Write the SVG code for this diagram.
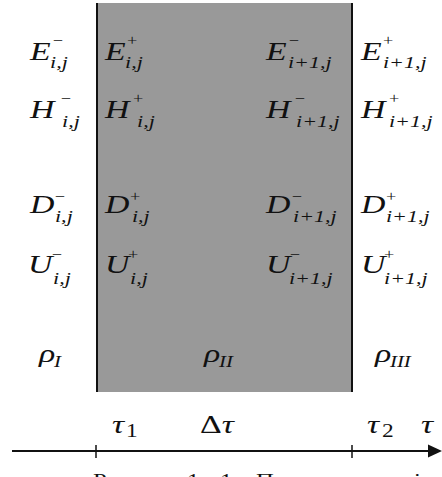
<svg xmlns="http://www.w3.org/2000/svg" width="442" height="477" viewBox="0 0 442 477">
<style>
text{font-family:"Liberation Serif","Times New Roman",serif;font-style:italic;fill:#111}
.m{font-size:26px}
.s{font-size:17px}
.p{font-size:14px;font-style:normal}
.r{font-size:16px}
.n{font-size:18px;font-style:normal}
.c{font-size:19px;font-style:normal}
</style>
<rect id="region-II" x="96" y="3" width="257" height="389" fill="#999"/>
<g id="boundaries" stroke="#111" stroke-width="2">
<line x1="97" y1="3" x2="97" y2="392"/>
<line x1="352" y1="3" x2="352" y2="392"/>
</g>
<g id="connectors">
<line x1="12" y1="451" x2="432" y2="451" stroke="#111" stroke-width="2"/>
<polygon points="428,444.5 442,451 428,457.5" fill="#111"/>
<line x1="96" y1="445" x2="96" y2="458" stroke="#111" stroke-width="1.5"/>
<line x1="352" y1="445" x2="352" y2="458" stroke="#111" stroke-width="1.5"/>
</g>
<g id="labels" transform="scale(1.3 1)">
<g id="E-ij-minus"><text class="m" x="23.1" y="60">E</text><text class="p" x="40.8" y="45">−</text><text class="s" x="38.5" y="68">i,j</text></g>
<g id="H-ij-minus"><text class="m" x="23.1" y="118">H</text><text class="p" x="46.9" y="103">−</text><text class="s" x="47.7" y="127">i,j</text></g>
<g id="D-ij-minus"><text class="m" x="23.1" y="213">D</text><text class="p" x="42.3" y="201">−</text><text class="s" x="42.3" y="222">i,j</text></g>
<g id="U-ij-minus"><text class="m" x="21.5" y="273">U</text><text class="p" x="40" y="259">−</text><text class="s" x="40.8" y="284">i,j</text></g>
<g id="E-ij-plus"><text class="m" x="80.8" y="60">E</text><text class="p" x="97.7" y="45">+</text><text class="s" x="96.2" y="68">i,j</text></g>
<g id="H-ij-plus"><text class="m" x="80.8" y="118">H</text><text class="p" x="102.3" y="103">+</text><text class="s" x="105.4" y="127">i,j</text></g>
<g id="D-ij-plus"><text class="m" x="80.8" y="213">D</text><text class="p" x="100" y="201">+</text><text class="s" x="101.5" y="222">i,j</text></g>
<g id="U-ij-plus"><text class="m" x="80.8" y="273">U</text><text class="p" x="98.5" y="259">+</text><text class="s" x="100" y="284">i,j</text></g>
<g id="E-i1j-minus"><text class="m" x="204.6" y="60">E</text><text class="p" x="222.3" y="45">−</text><text class="s" x="221.5" y="68">i+1,j</text></g>
<g id="H-i1j-minus"><text class="m" x="204.6" y="118">H</text><text class="p" x="226.9" y="103">−</text><text class="s" x="227.7" y="127">i+1,j</text></g>
<g id="D-i1j-minus"><text class="m" x="204.6" y="213">D</text><text class="p" x="224.6" y="201">−</text><text class="s" x="225.4" y="222">i+1,j</text></g>
<g id="U-i1j-minus"><text class="m" x="204.6" y="273">U</text><text class="p" x="223.1" y="259">−</text><text class="s" x="222.3" y="284">i+1,j</text></g>
<g id="E-i1j-plus"><text class="m" x="277.7" y="60">E</text><text class="p" x="294.6" y="45">+</text><text class="s" x="294.6" y="68">i+1,j</text></g>
<g id="H-i1j-plus"><text class="m" x="277.7" y="118">H</text><text class="p" x="299.2" y="103">+</text><text class="s" x="299.2" y="127">i+1,j</text></g>
<g id="D-i1j-plus"><text class="m" x="277.7" y="213">D</text><text class="p" x="296.9" y="201">+</text><text class="s" x="296.9" y="222">i+1,j</text></g>
<g id="U-i1j-plus"><text class="m" x="277.7" y="273">U</text><text class="p" x="295.4" y="259">+</text><text class="s" x="295.4" y="284">i+1,j</text></g>
<g id="rho-I"><text class="m" x="30" y="362">ρ</text><text class="r" x="41.5" y="367">I</text></g>
<g id="rho-II"><text class="m" x="156.9" y="362">ρ</text><text class="r" x="168.5" y="367">II</text></g>
<g id="rho-III"><text class="m" x="288.5" y="362">ρ</text><text class="r" x="300" y="367">III</text></g>
<g id="tau-1"><text class="m" x="86.2" y="433">τ</text><text class="n" x="96.9" y="437">1</text></g>
<g id="delta-tau"><text class="m" x="153.8" y="433"><tspan font-style="normal">Δ</tspan>τ</text></g>
<g id="tau-2"><text class="m" x="282.3" y="433">τ</text><text class="n" x="293.8" y="437">2</text></g>
<g id="tau-axis"><text class="m" x="323.8" y="433">τ</text></g>
<g id="caption"><text class="c" x="71.5" y="487">Рисунок</text><text class="c" x="143.8" y="487">1.</text><text class="c" x="169.2" y="487">1.</text><text class="c" x="196.9" y="487">Просторова</text><text class="c" x="318.5" y="487">і</text></g>
</g>
</svg>
